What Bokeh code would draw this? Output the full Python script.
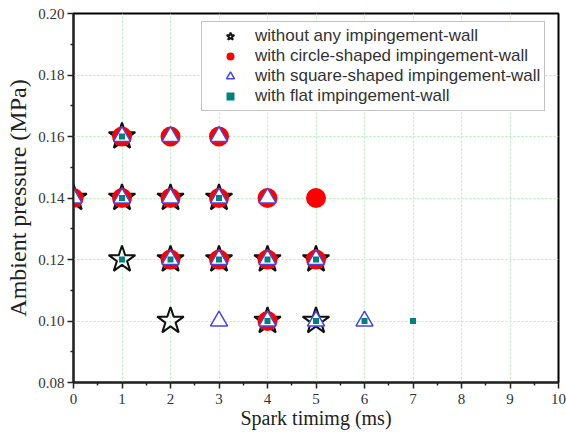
from bokeh.plotting import figure
from bokeh.models import (Legend, LegendItem, FixedTicker,
                          PrintfTickFormatter, Range1d)
from bokeh.embed import file_html
from bokeh.resources import INLINE

# ---- data ----
star_x = [0, 1, 1, 1, 2, 2, 2, 3, 3, 4, 4, 5, 5]
star_y = [0.14, 0.16, 0.14, 0.12, 0.14, 0.12, 0.10, 0.14, 0.12, 0.12, 0.10, 0.12, 0.10]

circle_x = [0, 1, 1, 2, 2, 2, 3, 3, 3, 4, 4, 4, 5, 5]
circle_y = [0.14, 0.16, 0.14, 0.16, 0.14, 0.12, 0.16, 0.14, 0.12, 0.14, 0.12, 0.10, 0.14, 0.12]

triangle_x = [0, 1, 1, 2, 2, 2, 3, 3, 3, 3, 4, 4, 4, 5, 5, 6]
triangle_y = [0.14, 0.16, 0.14, 0.16, 0.14, 0.12, 0.16, 0.14, 0.12, 0.10, 0.14, 0.12, 0.10, 0.12, 0.10, 0.10]

square_x = [1, 1, 1, 2, 3, 3, 4, 4, 5, 5, 6, 7]
square_y = [0.16, 0.14, 0.12, 0.12, 0.14, 0.12, 0.12, 0.10, 0.12, 0.10, 0.10, 0.10]

series_names = ["without any impingement-wall",
                "with circle-shaped impingement-wall",
                "with square-shaped impingement-wall",
                "with flat impingement-wall"]

x_ticks = [0, 1, 2, 3, 4, 5, 6, 7, 8, 9, 10]
y_ticks = [0.08, 0.10, 0.12, 0.14, 0.16, 0.18, 0.20]

SERIF = "Liberation Serif"
SANS = "Liberation Sans"

p = figure(width=566, height=432, output_backend="svg", toolbar_location=None,
           x_range=Range1d(0, 10), y_range=Range1d(0.08, 0.20),
           min_border_left=73, min_border_right=8, min_border_top=13, min_border_bottom=50)

p.outline_line_color = "black"
p.outline_line_width = 2
p.background_fill_color = "white"
p.border_fill_color = "white"

# grids
for g in (p.xgrid, p.ygrid):
    g.grid_line_color = "#b8ecb8"
    g.grid_line_dash = "2 2"
    g.grid_line_width = 1

p.xaxis.ticker = FixedTicker(ticks=x_ticks, minor_ticks=[v + 0.5 for v in x_ticks[:-1]])
p.yaxis.ticker = FixedTicker(ticks=y_ticks, minor_ticks=[v + 0.01 for v in y_ticks[:-1]])
p.yaxis.formatter = PrintfTickFormatter(format="%.2f")

for ax in (p.xaxis, p.yaxis):
    ax.axis_line_color = "#222222"
    ax.axis_line_width = 2
    ax.major_tick_line_color = "#222222"
    ax.major_tick_line_width = 1.5
    ax.minor_tick_line_color = "#222222"
    ax.minor_tick_line_width = 1.5
    ax.major_tick_out = 6
    ax.major_tick_in = 0
    ax.minor_tick_out = 3
    ax.minor_tick_in = 0
    ax.major_label_text_font = SERIF
    ax.major_label_text_font_size = "15px"
    ax.major_label_text_color = "#333333"
    ax.axis_label_text_font = SERIF
    ax.axis_label_text_font_style = "normal"
    ax.axis_label_text_color = "#222222"

p.xaxis.major_label_standoff = 5
p.yaxis.major_label_standoff = 3

p.yaxis.axis_label = "Ambient pressure (MPa)"
p.yaxis.axis_label_text_font_size = "24px"
p.yaxis.axis_label_standoff = 4

p.xaxis.axis_label = "Spark timimg (ms)"
p.xaxis.axis_label_text_font_size = "20px"
p.xaxis.axis_label_standoff = 0

# markers
r_star = p.scatter(star_x, star_y, marker="star", size=28, fill_color=None,
                   line_color="#111111", line_width=2)
r_circle = p.scatter(circle_x, circle_y, marker="circle", size=20, fill_color="#ff0000",
                     line_color=None)
r_tri = p.scatter(triangle_x, triangle_y, marker="triangle", size=17, fill_color="white",
                  line_color="#4646e6", line_width=1.5)
r_sq = p.scatter(square_x, square_y, marker="square", size=6, fill_color="#008080",
                 line_color=None)

legend = Legend(items=[LegendItem(label=series_names[0], renderers=[r_star]),
                       LegendItem(label=series_names[1], renderers=[r_circle]),
                       LegendItem(label=series_names[2], renderers=[r_tri]),
                       LegendItem(label=series_names[3], renderers=[r_sq])],
                location=(128, 271))
legend.label_text_font = SANS
legend.label_text_font_size = "17px"
legend.label_text_color = "#333333"
legend.glyph_width = 48
legend.glyph_height = 20
legend.label_height = 20
legend.spacing = 0
legend.padding = 4
legend.label_standoff = 1
legend.border_line_color = "#888888"
legend.border_line_width = 1
legend.background_fill_color = "white"
legend.background_fill_alpha = 1
p.add_layout(legend, "center")

open("out.html", "w").write(file_html(p, INLINE))
